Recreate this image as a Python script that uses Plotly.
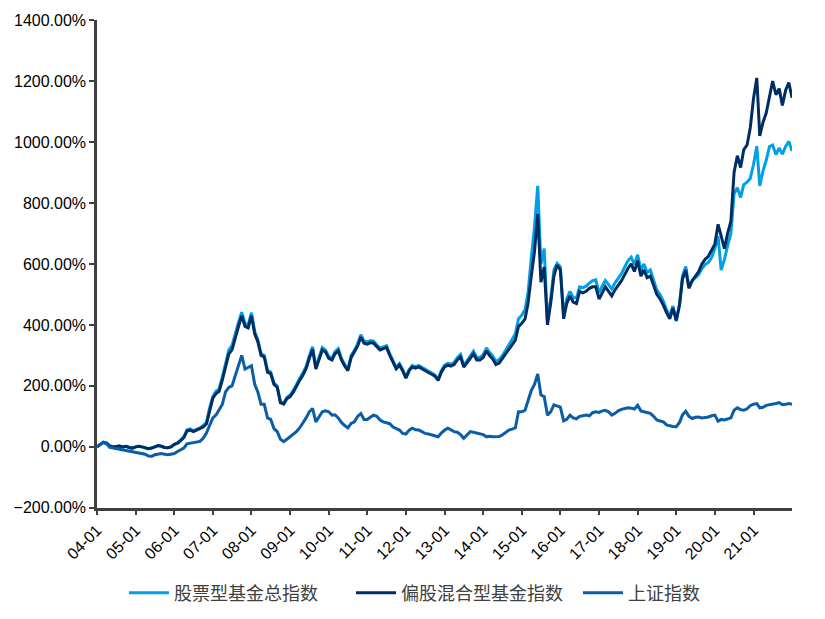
import pandas as pd
import plotly.graph_objects as go

# Monthly observation dates (first of month, Jan 2004 .. Dec 2021) plus year-end
dates = [d.strftime("%Y-%m-%d") for d in pd.date_range("2004-01-01", "2021-12-01", freq="MS")] + ["2021-12-31"]

series_names = ["股票型基金总指数", "偏股混合型基金指数", "上证指数"]

# 股票型基金总指数 (cumulative return, %)
stock_fund = [
    0, 8, 15, 12, 3, 0, 1, 3, 0, 2, -2, -4,
    0, 2, 0, -3, -6, -4, 0, 4, 2, -2, -3, 0,
    8, 13, 22, 33, 56, 59, 53, 58, 62, 70, 80, 128,
    166, 183, 190, 230, 272, 318, 332, 376, 410, 442, 405, 400,
    440, 378, 352, 306, 300, 250, 245, 210, 199, 148, 144, 162,
    170, 186, 206, 224, 242, 264, 298, 328, 262, 297, 326, 318,
    296, 291, 312, 322, 291, 270, 255, 300, 317, 338, 368, 347,
    344, 349, 347, 334, 324, 328, 332, 306, 285, 261, 273, 254,
    229, 254, 267, 263, 267, 260, 255, 249, 242, 236, 222, 250,
    268, 274, 271, 277, 292, 303, 268, 282, 298, 314, 293, 293,
    302, 325, 310, 298, 280, 286, 299, 318, 335, 352, 370, 420,
    432, 450, 505, 620, 720, 856, 600, 650, 410, 485, 580, 602,
    590, 430, 485, 510, 490, 488, 525, 522, 527, 537, 545, 548,
    505, 528, 546, 532, 518, 538, 553, 568, 590, 610, 622, 598,
    630, 578, 600, 572, 580, 548, 515, 500, 478, 450, 430, 462,
    412, 468, 560, 592, 525, 545, 555, 565, 585, 598, 605, 620,
    650, 690, 580, 615, 660, 700, 830, 850, 818, 860, 868, 880,
    926, 986, 856, 905, 940, 985, 990, 959, 980, 960, 985, 1002,
    970,
]

# 偏股混合型基金指数 (cumulative return, %)
hybrid_fund = [
    0, 8, 15, 12, 3, 0, 1, 3, 0, 2, -2, -4,
    0, 2, 0, -3, -6, -4, 0, 4, 2, -2, -3, 0,
    8, 12, 20, 30, 52, 55, 50, 55, 58, 65, 75, 120,
    160, 175, 182, 220, 260, 305, 318, 360, 395, 430, 395, 390,
    430, 370, 345, 300, 295, 245, 240, 205, 195, 145, 140, 158,
    165, 180, 200, 218, 235, 256, 290, 320, 255, 290, 318, 312,
    290, 285, 305, 315, 285, 265, 250, 293, 310, 330, 360, 340,
    337, 342, 340, 328, 318, 322, 326, 300, 280, 256, 268, 250,
    225, 250, 262, 258, 262, 255, 250, 244, 238, 232, 218, 245,
    262, 268, 265, 270, 285, 295, 262, 275, 290, 305, 285, 285,
    293, 315, 300, 288, 270, 275, 288, 305, 320, 335, 350, 395,
    405, 420, 470, 560, 640, 764, 540, 590, 400, 470, 560, 596,
    580, 420, 470, 495, 475, 470, 510, 505, 510, 520, 525, 525,
    485, 505, 525, 510, 495, 515, 530, 545, 565, 585, 600, 575,
    610, 560, 580, 555, 560, 530, 500, 485, 465, 440, 420, 455,
    415, 465, 550, 580, 520, 545, 560, 575, 600, 615, 625, 645,
    665, 730, 690, 650, 700, 740, 900, 955, 916, 975, 990, 1046,
    1143, 1210, 1020, 1065, 1095, 1145, 1200, 1155, 1175, 1120, 1170, 1195,
    1145,
]

# 上证指数 (cumulative return, %)
sse_index = [
    0, 8, 15, 10, -2, -4, -6, -8, -10, -12, -14, -15,
    -17, -19, -21, -24, -30, -31, -26, -24, -22, -24, -26, -24,
    -22, -15, -10, -4, 10, 12, 12, 15, 18, 28, 45, 70,
    95, 105, 120, 140, 180, 195, 200, 235, 265, 300, 255, 260,
    266, 205, 180, 140, 140, 95, 90, 60, 50, 25, 17, 25,
    33, 40, 50, 62, 77, 95, 115, 126, 82, 100, 115, 118,
    115, 104, 105, 95, 80, 70, 62, 77, 82, 100, 109, 90,
    90, 98, 104, 100, 88, 82, 80, 76, 65, 61, 55, 44,
    42, 55, 61, 56, 55, 50, 44, 42, 39, 37, 33, 45,
    55, 61, 55, 50, 48, 40, 28, 38, 50, 48, 45, 44,
    40, 33, 35, 33, 33, 34, 39, 48, 55, 58, 62, 115,
    115, 120, 150, 185, 205, 239, 170, 165, 104, 115, 138, 135,
    130, 85, 90, 104, 95, 92, 100, 102, 104, 102, 112, 115,
    113, 118, 120, 115, 104, 110, 118, 123, 126, 128, 127, 124,
    136, 118, 115, 113, 110, 100, 88, 85, 82, 72, 69, 67,
    66, 80, 105, 117, 100, 93, 97, 98, 95, 96, 98, 102,
    104, 84, 90, 88, 92, 95, 120, 128, 122, 120, 125, 135,
    140, 142, 128, 130, 136, 138, 138, 142, 145, 138, 140, 142,
    140,
]

colors = ["#00A0E6", "#002E63", "#0A5DA6"]

fig = go.Figure()
for name, vals, col in zip(series_names, [stock_fund, hybrid_fund, sse_index], colors):
    fig.add_trace(go.Scatter(
        x=dates, y=vals, name=name, mode="lines",
        line=dict(color=col, width=3),
    ))

axis_col = "#404040"
fig.update_layout(
    width=825, height=619,
    margin=dict(l=97, r=33, t=20, b=106),
    paper_bgcolor="white", plot_bgcolor="white",
    font=dict(family="Liberation Sans, Arial, Noto Sans CJK SC", size=16, color="#000000"),
    showlegend=True,
    legend=dict(
        orientation="h", xref="container", yref="container",
        x=0.563, xanchor="center", y=0.042, yanchor="middle",
        font=dict(family="Noto Sans CJK SC", size=18, color="#404040"),
        itemwidth=40, tracegroupgap=0,
        entrywidth=172, entrywidthmode="pixels",
    ),
)
fig.update_xaxes(
    type="date",
    range=["2004-01-01", "2021-12-31"],
    tick0="2004-01-01", dtick="M12", tickformat="%y-%m",
    tickangle=-45,
    showline=True, linecolor=axis_col, linewidth=2.5,
    ticks="outside", ticklen=4, tickwidth=2, tickcolor=axis_col,
    showgrid=False, zeroline=False,
    tickfont=dict(family="Liberation Sans, Arial", size=16, color="#000000"),
)
fig.update_yaxes(
    range=[-200, 1400], dtick=200, tick0=0,
    tickformat=".2f", ticksuffix="%",
    showline=True, linecolor=axis_col, linewidth=2.5,
    ticks="outside", ticklen=5, tickwidth=2, tickcolor=axis_col,
    showgrid=False, zeroline=False,
    tickfont=dict(family="Liberation Sans, Arial", size=16, color="#000000"),
)

fig.write_html("out.html")
